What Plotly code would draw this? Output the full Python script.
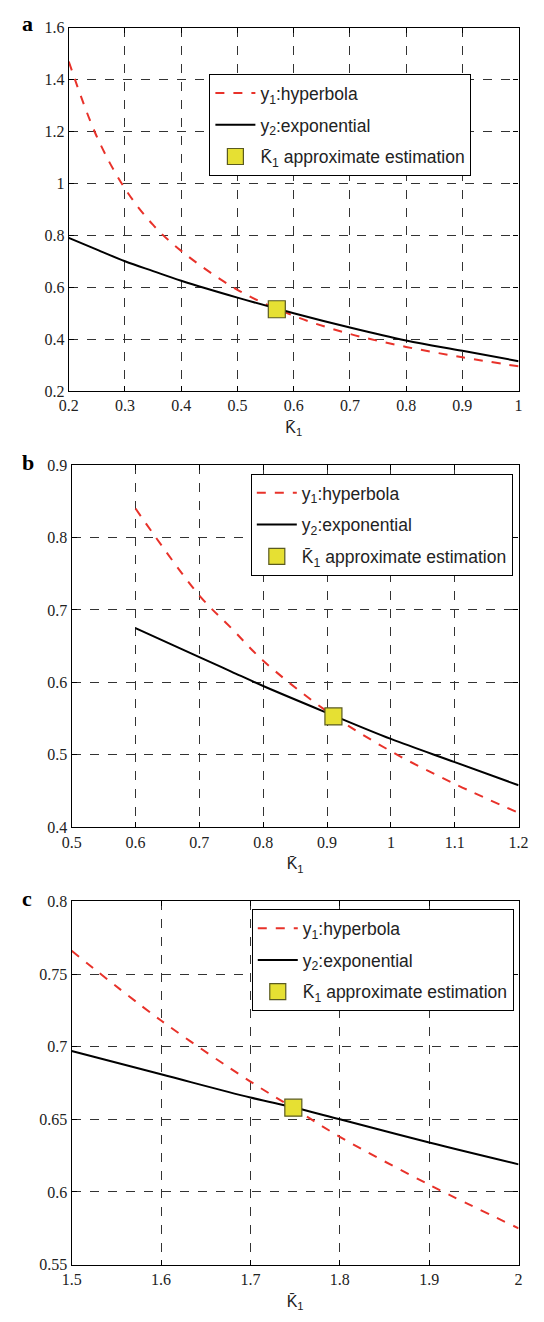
import plotly.graph_objects as go

# Panel a
xa = [0.2, 0.25, 0.3, 0.35, 0.4, 0.5, 0.6, 0.7, 0.8, 0.9, 1.0]
ya_hyp = [1.47, 1.18, 0.98, 0.84, 0.74, 0.59, 0.49, 0.42, 0.37, 0.33, 0.295]
ya_exp = [0.79, 0.745, 0.70, 0.662, 0.625, 0.56, 0.50, 0.445, 0.395, 0.355, 0.315]
ma = ([0.57], [0.515])

# Panel b
xb = [0.6, 0.7, 0.75, 0.8, 0.9, 1.0, 1.1, 1.2]
yb_hyp = [0.84, 0.72, 0.675, 0.63, 0.56, 0.505, 0.46, 0.42]
yb_exp = [0.675, 0.635, 0.615, 0.595, 0.558, 0.522, 0.49, 0.458]
mb = ([0.91], [0.553])

# Panel c
xc = [1.5, 1.6, 1.7, 1.75, 1.8, 1.9, 2.0]
yc_hyp = [0.766, 0.718, 0.676, 0.657, 0.638, 0.605, 0.575]
yc_exp = [0.697, 0.681, 0.665, 0.658, 0.65, 0.634, 0.619]
mc = ([1.748], [0.658])

names = ["y<sub>1</sub>:hyperbola", "y<sub>2</sub>:exponential",
         "K\u0304<sub>1</sub> approximate estimation"]

RED = "#e8322a"
H = 1322.0
W = 544.0

fig = go.Figure()
panels = [
    (xa, ya_hyp, ya_exp, ma, "", "legend"),
    (xb, yb_hyp, yb_exp, mb, "2", "legend2"),
    (xc, yc_hyp, yc_exp, mc, "3", "legend3"),
]
for i, (x, yh, ye, m, s, lg) in enumerate(panels):
    xr, yr = "x" + s, "y" + s
    fig.add_trace(go.Scatter(x=x, y=yh, mode="lines", name=names[0], xaxis=xr, yaxis=yr,
                             line=dict(color=RED, width=2, dash="dash", shape="spline"),
                             legend=lg, legendgroup=f"h{i}"))
    fig.add_trace(go.Scatter(x=x, y=ye, mode="lines", name=names[1], xaxis=xr, yaxis=yr,
                             line=dict(color="black", width=2, shape="spline"),
                             legend=lg, legendgroup=f"e{i}"))
    fig.add_trace(go.Scatter(x=m[0], y=m[1], mode="markers", name=names[2], xaxis=xr, yaxis=yr,
                             marker=dict(symbol="square", size=17, color="#e6e033",
                                         line=dict(color="#5a5a20", width=1.2)),
                             legend=lg, legendgroup=f"m{i}"))

tickfont = dict(family="Liberation Serif", size=16, color="#222")
titlefont = dict(family="Liberation Sans", size=16, color="#222")

def xax(dom, rng, dtick):
    return dict(domain=dom, range=rng, dtick=dtick, showgrid=True, gridcolor="#333",
                griddash="dash", gridwidth=1, showline=True, linecolor="black", linewidth=1.2,
                mirror="ticks", ticks="inside", ticklen=5, tickcolor="black", zeroline=False,
                tickfont=tickfont, title=dict(text="K\u0304<sub>1</sub>", font=titlefont, standoff=8))

def yax(dom, rng, dtick, anchor):
    return dict(domain=dom, range=rng, dtick=dtick, showgrid=True, gridcolor="#333",
                griddash="dash", gridwidth=1, showline=True, linecolor="black", linewidth=1.2,
                mirror="ticks", ticks="inside", ticklen=5, tickcolor="black", zeroline=False,
                tickfont=tickfont, anchor=anchor)

def ydom(top, bot):
    return [1 - bot / H, 1 - top / H]

legstyle = dict(bgcolor="white", bordercolor="black", borderwidth=1,
                font=dict(family="Liberation Sans", size=17.5, color="#222"),
                xanchor="left", yanchor="top", tracegroupgap=6, itemwidth=40)

fig.update_layout(
    width=544, height=1322, margin=dict(l=0, r=0, t=0, b=0),
    plot_bgcolor="white", paper_bgcolor="white", showlegend=True,
    xaxis=xax([61 / W, 528 / W], [0.2, 1.0], 0.1),
    yaxis=yax(ydom(20, 388), [0.2, 1.6], 0.2, "x"),
    xaxis2=xax([64 / W, 528 / W], [0.5, 1.2], 0.1),
    yaxis2=yax(ydom(463, 830), [0.4, 0.9], 0.1, "x2"),
    xaxis3=xax([64 / W, 528 / W], [1.5, 2.0], 0.1),
    yaxis3=yax(ydom(905, 1273), [0.55, 0.8], 0.05, "x3"),
    legend=dict(x=207 / W, y=1 - 67 / H, **legstyle),
    legend2=dict(x=250 / W, y=1 - 472 / H, **legstyle),
    legend3=dict(x=251 / W, y=1 - 913 / H, **legstyle),
)
fig.update_layout(yaxis2=dict(anchor="x2"), xaxis2=dict(anchor="y2"),
                  yaxis3=dict(anchor="x3"), xaxis3=dict(anchor="y3"),
                  xaxis=dict(anchor="y"))

for lab, ytop in [("a", 16), ("b", 460), ("c", 902)]:
    fig.add_annotation(text="<b>" + lab + "</b>", x=10 / W, y=1 - ytop / H, xref="paper", yref="paper",
                       xanchor="left", yanchor="middle", showarrow=False,
                       font=dict(family="Liberation Serif", size=22, color="black"))

fig.write_html("out.html")
